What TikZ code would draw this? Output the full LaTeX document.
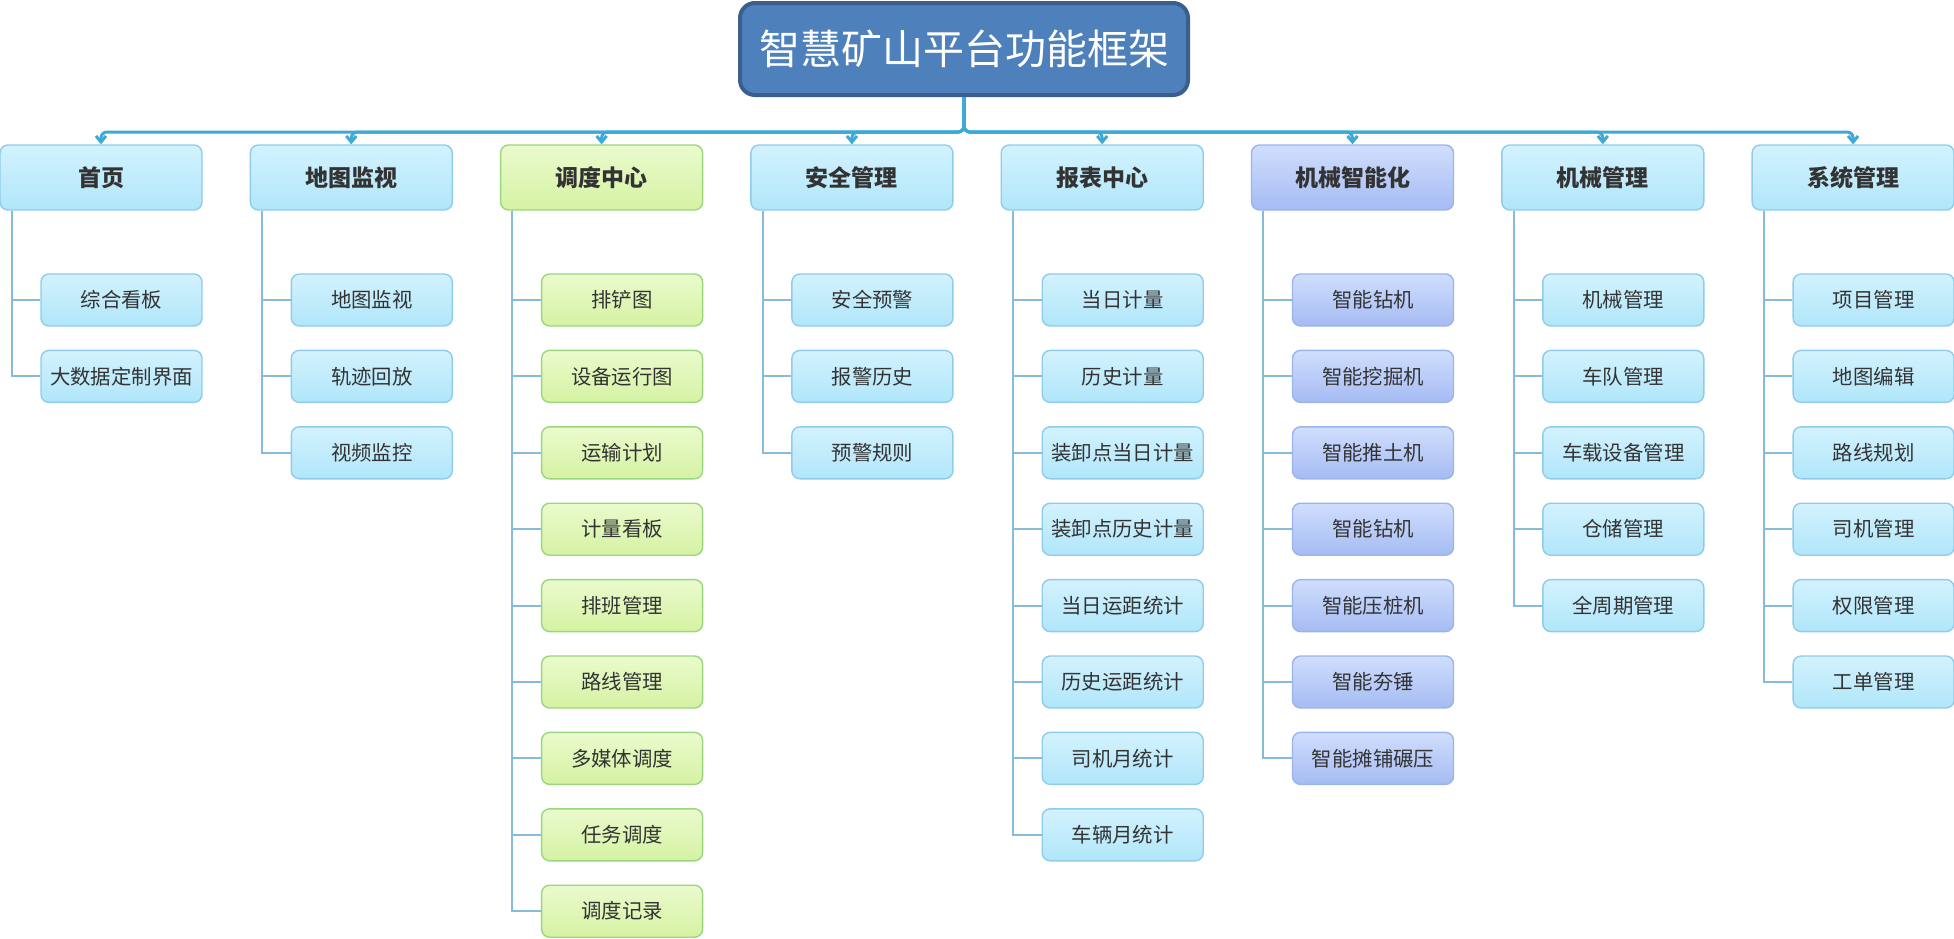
\documentclass[tikz,border=0pt]{standalone}
\usepackage{fontspec}
\newfontfamily\cjk{Noto Sans CJK SC}
\usetikzlibrary{arrows.meta}

\definecolor{rootfill}{HTML}{4E80BC}
\definecolor{rootline}{HTML}{3A5E8E}
\definecolor{busblue}{HTML}{3DA9D6}
\definecolor{branchblue}{HTML}{86BCD9}
\definecolor{labelgray}{HTML}{333333}

\tikzset{
  rootbox/.style={rectangle, rounded corners=7.5pt, fill=rootfill, draw=rootline,
    line width=2pt, minimum width=224pt, minimum height=46pt, inner sep=0pt,
    text=white, font=\cjk\fontsize{20.5pt}{24pt}\selectfont},
  topbox/.style={rectangle, rounded corners=4pt, line width=0.7pt,
    minimum width=101pt, minimum height=32.5pt, inner sep=0pt,
    text=labelgray, font=\cjk\bfseries\fontsize{11.5pt}{14pt}\selectfont},
  subbox/.style={rectangle, rounded corners=4pt, line width=0.7pt,
    minimum width=80.5pt, minimum height=26pt, inner sep=0pt,
    text=labelgray, font=\cjk\fontsize{10.2pt}{12pt}\selectfont},
  bluebox/.style={top color={rgb,255:red,211;green,242;blue,254},
    bottom color={rgb,255:red,176;green,230;blue,250},
    draw={rgb,255:red,143;green,203;blue,234}},
  greenbox/.style={top color={rgb,255:red,234;green,251;blue,205},
    bottom color={rgb,255:red,213;green,242;blue,163},
    draw={rgb,255:red,154;green,214;blue,126}},
  purplebox/.style={top color={rgb,255:red,208;green,222;blue,253},
    bottom color={rgb,255:red,165;green,187;blue,243},
    draw={rgb,255:red,156;green,179;blue,235}},
  bus/.style={draw=busblue, line width=1.5pt, rounded corners=3pt},
  branch/.style={draw=branchblue, line width=1pt}
}

\begin{document}
\begin{tikzpicture}[x=0.5pt,y=-0.5pt]
  \useasboundingbox (0,0) rectangle (1954,938);
  \node[rootbox] (root) at (964,49) {智慧矿山平台功能框架};
  \coordinate (bus) at (964,132);
  % modules and their pages
  \foreach \col/\i/\look/\kids in {
      shouye/0/bluebox/{综合看板,大数据定制界面},
      ditu/1/bluebox/{地图监视,轨迹回放,视频监控},
      diaodu/2/greenbox/{排铲图,设备运行图,运输计划,计量看板,排班管理,路线管理,多媒体调度,任务调度,调度记录},
      anquan/3/bluebox/{安全预警,报警历史,预警规则},
      baobiao/4/bluebox/{当日计量,历史计量,装卸点当日计量,装卸点历史计量,当日运距统计,历史运距统计,司机月统计,车辆月统计},
      jixiezn/5/purplebox/{智能钻机,智能挖掘机,智能推土机,智能钻机,智能压桩机,智能夯锤,智能摊铺碾压},
      jixie/6/bluebox/{机械管理,车队管理,车载设备管理,仓储管理,全周期管理},
      xitong/7/bluebox/{项目管理,地图编辑,路线规划,司机管理,权限管理,工单管理}} {
    \ifcase\i \def\txt{首页}\or \def\txt{地图监视}\or \def\txt{调度中心}\or
      \def\txt{安全管理}\or \def\txt{报表中心}\or \def\txt{机械智能化}\or
      \def\txt{机械管理}\or \def\txt{系统管理}\fi
    \node[topbox,\look] (\col) at ({250.3*\i+101},177.5) {\txt};
    \draw[bus,-{Straight Barb[length=3pt,width=5pt]}] (root.south) -- (bus) -| (\col.north);
    \foreach \kid [count=\k] in \kids {
      \node[subbox,\look] (\col-\k) at ({250.3*\i+121.5},{300+76.4*(\k-1)}) {\kid};
      \draw[branch] ([xshift=6.25pt]\col.south west) |- (\col-\k.west);
    }
  }
\end{tikzpicture}
\end{document}
